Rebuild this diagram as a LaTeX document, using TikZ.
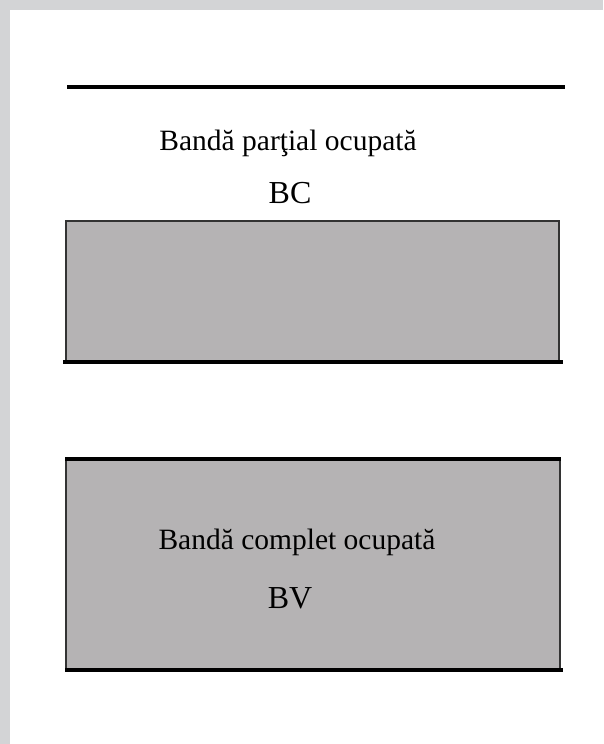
\documentclass[tikz,border=0pt]{standalone}
\usepackage{fontspec}
\setmainfont{Liberation Serif}
\usepackage{xcolor}
\definecolor{bandgray}{RGB}{181,179,180}
\definecolor{framegray}{RGB}{211,212,214}

\begin{document}
\begin{tikzpicture}[%
    x=1pt,
    y=-1pt,
    band/.style={%
      rectangle,
      fill=bandgray,
      draw=black!80,
      line width=1.2pt,
      inner sep=0pt
    },
    bandtext/.style={%
      font=\fontsize{29.5}{35}\selectfont,
      anchor=base,
      inner sep=0pt
    },
    bandname/.style={%
      font=\fontsize{32}{38}\selectfont,
      anchor=base,
      inner sep=0pt
    },
    thickline/.style={line width=4pt}
  ]
    \useasboundingbox (0,0) rectangle (603,744);
    \fill[framegray] (0,0) rectangle (603,744);
    \fill[white] (10,10) rectangle (603,744);

    % upper band
    \coordinate (topw) at (67,87);
    \coordinate (tope) at (565,87);
    \draw[thickline] (topw) -- (tope);

    \node[bandtext] (bctext) at (288,150) {Bandă parţial ocupată};
    \node[bandname] (bcname) at (290,203) {BC};
    \node[band,minimum width=493pt,minimum height=140pt] (bc) at (312.5,291) {};
    \draw[thickline] ([xshift=-2pt]bc.south west) -- ([xshift=3pt]bc.south east);

    % lower band
    \node[band,minimum width=494pt,minimum height=209pt] (bv) at (313,564.5) {};
    \draw[thickline] (bv.north west) -- (bv.north east);
    \draw[thickline] (bv.south west) -- ([xshift=2pt]bv.south east);
    \node[bandtext] (bvtext) at (297,549) {Bandă complet ocupată};
    \node[bandname] (bvname) at (290,608) {BV};
\end{tikzpicture}
\end{document}
